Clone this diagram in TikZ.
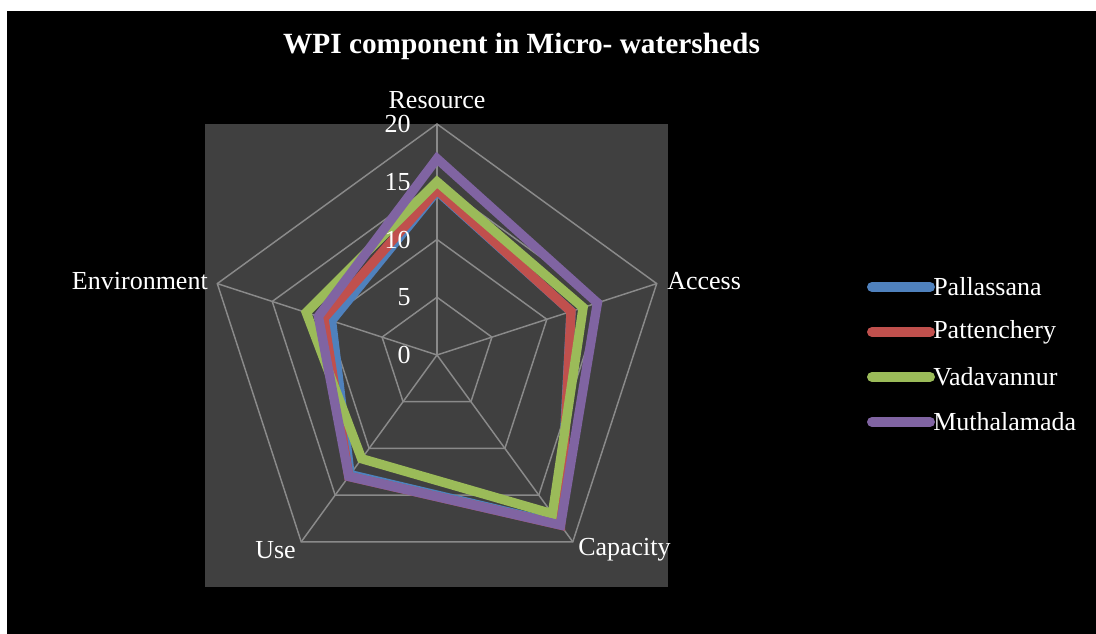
\documentclass[tikz,border=0pt]{standalone}
\usepackage{fontspec}
\setmainfont{Liberation Serif}
\definecolor{serBlue}{HTML}{4F81BD}
\definecolor{serRed}{HTML}{C0504D}
\definecolor{serGreen}{HTML}{9BBB59}
\definecolor{serPurple}{HTML}{8064A2}
\definecolor{plotBg}{HTML}{404040}
\definecolor{gridGray}{HTML}{8A8A8A}
\begin{document}
\begin{tikzpicture}[x=0.75pt,y=0.75pt,
  gridline/.style={draw=gridGray,line width=1.1pt},
  series/.style={line width=7pt,miter limit=10,line join=miter},
  axislabel/.style={text=white,font=\fontsize{19.5}{22}\selectfont,inner sep=0pt},
  ticklabel/.style={text=white,font=\fontsize{19.5}{22}\selectfont,inner sep=0pt,anchor=east},
  legline/.style={line width=7.5pt,line cap=round},
  legtext/.style={text=white,font=\fontsize{19.5}{22}\selectfont,inner sep=0pt,anchor=west}]
\useasboundingbox (0,0) rectangle (1096,634);
\fill[white] (0,0) rectangle (1096,634);
\fill[black] (7,0) rectangle (1096,623);
% title
\node[text=white,font=\bfseries\fontsize{22}{26}\selectfont,inner sep=0pt] (title) at (521.5,588) {WPI component in Micro- watersheds};
% plot area
\fill[plotBg] (205,47) rectangle (668,510);
\begin{scope}[shift={(437,279)}]
  \def\u{11.55}
  % radar grid rings and spokes
  \foreach \r in {5,10,15,20}{
    \draw[gridline] (90:{\r*\u}) -- (18:{\r*\u}) -- (-54:{\r*\u}) -- (-126:{\r*\u}) -- (162:{\r*\u}) -- cycle;
  }
  \foreach \a in {90,18,-54,-126,162}{
    \draw[gridline] (0,0) -- (\a:{20*\u});
  }
  % axis labels
  \node[axislabel] (resource) at (0,255) {Resource};
  \node[axislabel,anchor=west] (access) at (230,74) {Access};
  \node[axislabel,anchor=west] (capacity) at (141,-195) {Capacity};
  \node[axislabel,anchor=east] (use) at (-141,-195) {Use};
  \node[axislabel,anchor=east] (environment) at (-229,74) {Environment};
  % data series: Resource, Access, Capacity, Use, Environment
  \foreach \col/\a/\b/\c/\d/\e in {
      serBlue/14.2/12.2/18.1/12.8/9.6,
      serRed/14.3/12.2/18.2/13.0/10.3,
      serGreen/15.0/13.3/17.0/11.1/11.9,
      serPurple/17.0/14.6/18.2/13.0/10.8}{
    \draw[series,draw=\col] (90:{\a*\u}) -- (18:{\b*\u}) -- (-54:{\c*\u}) -- (-126:{\d*\u}) -- (162:{\e*\u}) -- cycle;
  }
  % radial tick labels
  \foreach \r in {0,5,10,15,20}{
    \node[ticklabel] (tick\r) at (-26,{\r*\u}) {\r};
  }
\end{scope}
% legend
\foreach \col/\name/\y [count=\i] in {serBlue/Pallassana/347, serRed/Pattenchery/302, serGreen/Vadavannur/257, serPurple/Muthalamada/212}{
  \coordinate (legA\i) at (872,\y);
  \coordinate (legB\i) at (930,\y);
  \draw[legline,draw=\col] (legA\i) -- (legB\i);
  \node[legtext] (leg\i) at (933,\y) {\name};
}
\end{tikzpicture}
\end{document}
